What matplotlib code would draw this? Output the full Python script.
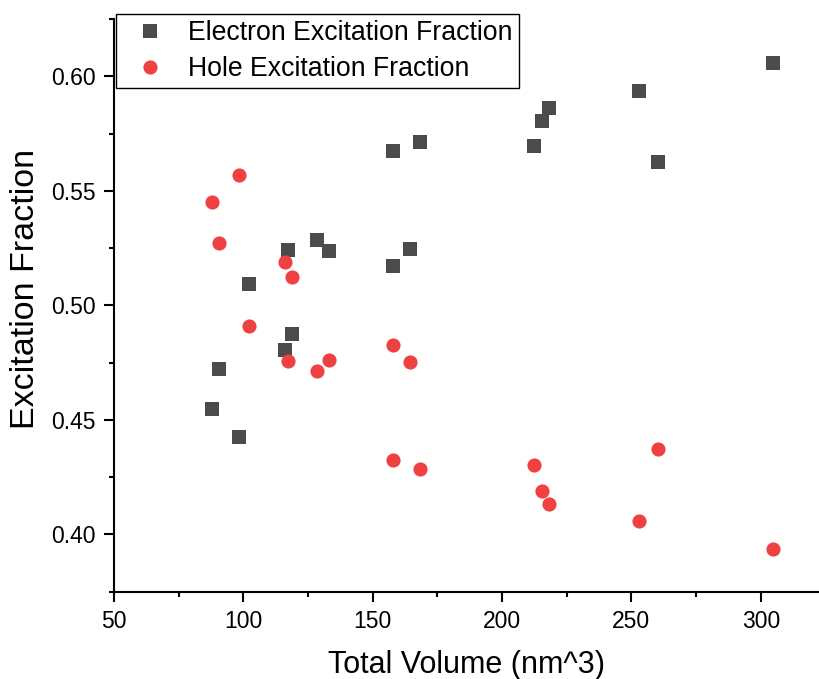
import matplotlib
matplotlib.use("Agg")
import matplotlib.pyplot as plt
from matplotlib.ticker import MultipleLocator, FormatStrFormatter

plt.rcParams['font.family'] = ['Liberation Sans', 'DejaVu Sans']

# Data
total_volume = [88.0, 90.7, 98.4, 102.3, 116.2, 117.4, 118.9, 128.6, 133.2,
                158.0, 158.0, 164.5, 168.4, 212.5, 215.6, 218.3, 253.1, 260.4, 304.9]
electron_fraction = [0.4549, 0.4724, 0.4424, 0.5092, 0.4807, 0.5240, 0.4877, 0.5284, 0.5236,
                     0.5674, 0.5170, 0.5245, 0.5713, 0.5696, 0.5805, 0.5862, 0.5937, 0.5626, 0.6059]
hole_fraction = [0.5449, 0.5272, 0.5571, 0.4909, 0.5191, 0.4759, 0.5122, 0.4713, 0.4763,
                 0.4327, 0.4827, 0.4753, 0.4284, 0.4304, 0.4191, 0.4135, 0.4060, 0.4374, 0.3936]

series_labels = ["Electron Excitation Fraction", "Hole Excitation Fraction"]
x_label = "Total Volume (nm^3)"
y_label = "Excitation Fraction"

W, H = 819, 679
fig = plt.figure(figsize=(W / 100, H / 100), dpi=100)
ax = fig.add_axes([114 / W, 1 - 591.7 / H, (W - 114) / W, (591.7 - 19) / H])

ax.plot(total_volume, electron_fraction, linestyle='none', marker='s',
        markersize=9.4, color='#4b4b4b', markeredgewidth=0, label=series_labels[0])
ax.plot(total_volume, hole_fraction, linestyle='none', marker='o',
        markersize=10.2, color='#f04142', markeredgewidth=0, label=series_labels[1])

ax.set_xlim(50, 322.5)
ax.set_ylim(0.375, 0.625)
ax.xaxis.set_major_locator(MultipleLocator(50))
ax.xaxis.set_minor_locator(MultipleLocator(25))
ax.yaxis.set_major_locator(MultipleLocator(0.05))
ax.yaxis.set_minor_locator(MultipleLocator(0.025))
ax.yaxis.set_major_formatter(FormatStrFormatter('%.2f'))

for side in ['top', 'right']:
    ax.spines[side].set_visible(False)
for side in ['left', 'bottom']:
    ax.spines[side].set_linewidth(1.5)

ax.tick_params(which='major', direction='out', length=7.5, width=1.5, labelsize=16.5, pad=6)
ax.tick_params(which='minor', direction='out', length=3.5, width=1.5)

ax.set_xlabel(x_label, fontsize=22, labelpad=12)
ax.set_ylabel(y_label, fontsize=24.5)
ax.yaxis.set_label_coords(-0.104, (591.7 - 289) / (591.7 - 19))

leg = ax.legend(loc='upper left', bbox_to_anchor=(116 / W, 1 - 14 / H),
                bbox_transform=fig.transFigure, borderaxespad=0, fontsize=19.2,
                frameon=True, fancybox=False, framealpha=1, edgecolor='black',
                handlelength=2.04, handletextpad=0.41, borderpad=0.24, labelspacing=0.36)
leg.get_frame().set_linewidth(1.0)

fig.savefig("out.png", dpi=100)
